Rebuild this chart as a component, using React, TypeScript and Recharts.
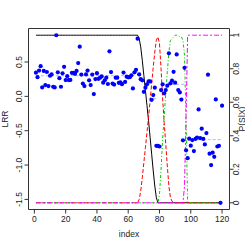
import React from 'react';
import {
  ComposedChart,
  Line,
  Scatter,
  XAxis,
  YAxis,
  ReferenceArea,
  Label,
} from 'recharts';

const FONT = '"Liberation Sans", Arial, sans-serif';
const INK = '#222';

// log R ratio, one value per probe (index 1..120)
const lrr = [
  0.345, 0.28, 0.375, 0.44, 0.13, 0.37, 0.165, 0.355, 0.15, 0.3,
  0.32, 0.14, 0.13, 0.89, 0.35, 0.265, 0.14, 0.335, 0.43, 0.237,
  0.294, 0.237, 0.24, 0.342, 0.342, 0.328, 0.37, 0.485, 0.723, 0.317,
  0.186, 0.15, 0.32, 0.375, 0.233, 0.165, 0.317, 0.033, 0.252, 0.338,
  0.255, 0.272, 0.29, 0.2, 0.233, 0.272, 0.18, 0.655, 0.354, 0.186,
  0.172, 0.272, 0.272, 0.197, 0.204, 0.178, 0.346, 0.21, 0.287, 0.277,
  0.28, 0.306, 0.116, 0.35, 0.386, 0.84, 0.32, 0.25, 0.233, 0.066,
  0.127, 0.175, 0.218, 0.218, -0.05, 0.019, 0.127, -0.72, -0.72, -0.73,
  0.092, 0.175, 0.044, 0.092, 0.156, 0.626, 0.19, 0.229, 0.357, 0.2,
  0.61, 0.092, 0.058, -0.047, -0.64, 0.415, -0.786, -0.9, -0.616, -0.718,
  -0.636, -0.796, -0.62, -0.6, -0.19, -0.607, -0.47, -0.62, -0.7, -0.534,
  0.316, -0.834, -1.0, -0.82, -0.88, -0.044, -0.73, -0.72, -1.55, -0.135,
];

// posterior state probabilities P(S|X)
const pState1 = [
  1, 1, 1, 1, 1, 1, 1, 1, 1, 1, 1, 1, 1, 1, 1, 1, 1, 1, 1, 1,
  1, 1, 1, 1, 1, 1, 1, 1, 1, 1, 1, 1, 1, 1, 1, 1, 1, 1, 1, 1,
  1, 1, 1, 1, 1, 1, 1, 1, 1, 1, 1, 1, 1, 1, 1, 1, 1, 1, 1, 1,
  1, 1, 1, 1, 1, 1, 0.98, 0.93, 0.85, 0.76, 0.67, 0.58, 0.49, 0.39, 0.29, 0.19, 0.1, 0.03, 0, 0,
  0, 0, 0, 0, 0, 0, 0, 0, 0, 0, 0, 0, 0, 0, 0, 0, 0, 0, 0, 0,
  0, 0, 0, 0, 0, 0, 0, 0, 0, 0, 0, 0, 0, 0, 0, 0, 0, 0, 0, 0,
];
const pState2 = [
  0, 0, 0, 0, 0, 0, 0, 0, 0, 0, 0, 0, 0, 0, 0, 0, 0, 0, 0, 0,
  0, 0, 0, 0, 0, 0, 0, 0, 0, 0, 0, 0, 0, 0, 0, 0, 0, 0, 0, 0,
  0, 0, 0, 0, 0, 0, 0, 0, 0, 0, 0, 0, 0, 0, 0, 0, 0, 0, 0, 0,
  0, 0, 0, 0, 0, 0, 0.02, 0.07, 0.15, 0.24, 0.33, 0.42, 0.51, 0.61, 0.71, 0.81, 0.9, 0.97, 0.99, 0.95,
  0.8, 0.62, 0.48, 0.35, 0.22, 0.1, 0.03, 0.01, 0, 0, 0, 0, 0, 0, 0, 0, 0, 0, 0, 0,
  0, 0, 0, 0, 0, 0, 0, 0, 0, 0, 0, 0, 0, 0, 0, 0, 0, 0, 0, 0,
];
const pState3 = [
  0, 0, 0, 0, 0, 0, 0, 0, 0, 0, 0, 0, 0, 0, 0, 0, 0, 0, 0, 0,
  0, 0, 0, 0, 0, 0, 0, 0, 0, 0, 0, 0, 0, 0, 0, 0, 0, 0, 0, 0,
  0, 0, 0, 0, 0, 0, 0, 0, 0, 0, 0, 0, 0, 0, 0, 0, 0, 0, 0, 0,
  0, 0, 0, 0, 0, 0, 0, 0, 0, 0, 0, 0, 0, 0, 0, 0, 0, 0, 0, 0.05,
  0.2, 0.38, 0.52, 0.65, 0.78, 0.9, 0.97, 0.98, 0.99, 1, 1, 1, 0.99, 0.99, 0.97, 0.88, 0.47, 0, 0, 0,
  0, 0, 0, 0, 0, 0, 0, 0, 0, 0, 0, 0, 0, 0, 0, 0, 0, 0, 0, 0,
];
const pState4 = [
  0, 0, 0, 0, 0, 0, 0, 0, 0, 0, 0, 0, 0, 0, 0, 0, 0, 0, 0, 0,
  0, 0, 0, 0, 0, 0, 0, 0, 0, 0, 0, 0, 0, 0, 0, 0, 0, 0, 0, 0,
  0, 0, 0, 0, 0, 0, 0, 0, 0, 0, 0, 0, 0, 0, 0, 0, 0, 0, 0, 0,
  0, 0, 0, 0, 0, 0, 0, 0, 0, 0, 0, 0, 0, 0, 0, 0, 0, 0, 0, 0,
  0, 0, 0, 0, 0, 0, 0, 0, 0, 0, 0, 0, 0, 0, 0, 0.1, 0.52, 1, 1, 1,
  1, 1, 1, 1, 1, 1, 1, 1, 1, 1, 1, 1, 1, 1, 1, 1, 1, 1, 1, 1,
];

// segment means of LRR (start index, end index, mean)
const segStart = [1, 73, 81, 98];
const segEnd = [64, 78, 96, 120];
const segMean = [0.3, -0.036, 0.175, -0.63];

const xTicks = [0, 20, 40, 60, 80, 100, 120];
const lrrTicks = [-1.5, -1, -0.5, 0, 0.5];
const probTicks = [0, 0.2, 0.4, 0.6, 0.8, 1];

const data = lrr.map((v, k) => ({
  i: k + 1,
  lrr: v,
  p1: pState1[k],
  p2: pState2[k],
  p3: pState3[k],
  p4: pState4[k],
}));

const segments = segStart.map((s, k) => [
  { i: s, m: segMean[k] },
  { i: segEnd[k], m: segMean[k] },
]);

const fmtLrr = (v: number) => (v < 0 ? '-' : '') + Math.abs(v).toFixed(1);
const fmtProb = (v: number) => (v === 0 || v === 1 ? String(v) : v.toFixed(1));

const RotTick = ({ x, y, payload, fmt, dx = 0 }: any) => (
  <text
    x={x + dx}
    y={y}
    transform={`rotate(-90 ${x + dx} ${y})`}
    textAnchor="middle"
    fontSize={8.5}
    fontFamily={FONT}
    fill={INK}
  >
    {fmt(payload.value)}
  </text>
);

const RotLabel = ({ viewBox, text, dx }: any) => {
  const x = viewBox.x + dx;
  const y = viewBox.y + viewBox.height / 2;
  return (
    <text
      x={x}
      y={y}
      transform={`rotate(-90 ${x} ${y})`}
      textAnchor="middle"
      fontSize={8.5}
      fontFamily={FONT}
      fill={INK}
    >
      {text}
    </text>
  );
};

const Dot = (props: any) => <circle cx={props.cx} cy={props.cy} r={2.1} fill="#0000FF" />;

export default function App() {
  return (
    <div style={{ position: 'absolute', left: 0, top: 0, background: '#fff' }}>
      <ComposedChart
        width={245}
        height={245}
        data={data}
        margin={{ top: 28.5, right: 0, bottom: 0, left: 0 }}
      >
        <XAxis
          dataKey="i"
          type="number"
          domain={[-3.76, 124.76]}
          ticks={xTicks}
          allowDataOverflow
          height={35.5}
          axisLine={false}
          tickSize={4}
          tickLine={{ stroke: '#333' }}
          tick={{ fontSize: 8.5, fill: INK, fontFamily: FONT }}
        >
          <Label value="index" position="insideBottom" offset={8.5} fontSize={8.5} fill={INK} fontFamily={FONT} />
        </XAxis>
        <YAxis
          yAxisId="lrr"
          type="number"
          domain={[-1.647, 0.988]}
          ticks={lrrTicks}
          allowDataOverflow
          width={28.5}
          axisLine={false}
          tickSize={4}
          tickLine={{ stroke: '#333' }}
          tick={<RotTick fmt={fmtLrr} />}
        >
          <Label content={<RotLabel text="LRR" dx={7.5} />} />
        </YAxis>
        <YAxis
          yAxisId="p"
          orientation="right"
          type="number"
          domain={[-0.04, 1.04]}
          ticks={probTicks}
          allowDataOverflow
          width={15.5}
          axisLine={false}
          tickSize={4}
          tickLine={{ stroke: '#333' }}
          tick={<RotTick fmt={fmtProb} dx={3.5} />}
        >
          <Label content={<RotLabel text="P(S|X)" dx={15} />} />
        </YAxis>

        {segments.map((seg, k) => (
          <Line
            key={`seg${k}`}
            data={seg}
            dataKey="m"
            yAxisId="lrr"
            stroke="#b4b4f0"
            strokeWidth={1}
            strokeDasharray="3 2"
            dot={false}
            isAnimationActive={false}
          />
        ))}

        <Scatter yAxisId="lrr" dataKey="lrr" shape={<Dot />} isAnimationActive={false} />

        <Line yAxisId="p" dataKey="p1" type="linear" stroke="#000000" strokeWidth={1} dot={false} isAnimationActive={false} />
        <Line yAxisId="p" dataKey="p2" type="linear" stroke="#FF0000" strokeWidth={1} strokeDasharray="4 2" dot={false} isAnimationActive={false} />
        <Line yAxisId="p" dataKey="p3" type="linear" stroke="#00CD00" strokeWidth={1} strokeDasharray="1 2 3 2" dot={false} isAnimationActive={false} />
        <Line yAxisId="p" dataKey="p4" type="linear" stroke="#FF00FF" strokeWidth={1} strokeDasharray="5 2 2 2" dot={false} isAnimationActive={false} />

        <ReferenceArea
          yAxisId="p"
          x1={-3.76}
          x2={124.76}
          y1={-0.04}
          y2={1.04}
          fill="none"
          stroke="#333"
          strokeWidth={1}
          ifOverflow="visible"
        />
      </ComposedChart>
    </div>
  );
}
